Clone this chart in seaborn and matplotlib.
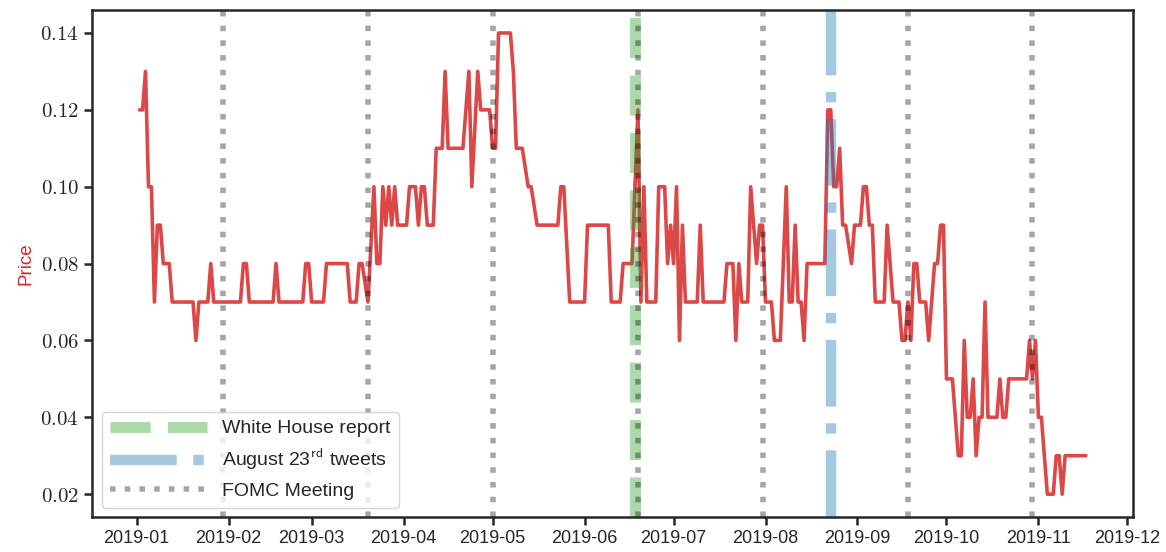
import matplotlib
matplotlib.use("Agg")
import pandas as pd
import numpy as np
import matplotlib.pyplot as plt
import matplotlib.dates as mdates
from matplotlib.ticker import FuncFormatter
import seaborn as sns

# price series (days after 2019-01-01, price)
start_date = "2019-01-01"
day_offsets = [1, 2, 3, 4, 5, 6, 7, 8, 9, 11, 12, 19, 20, 21, 24, 25, 26, 35, 36, 37, 38,
               46, 47, 48, 56, 57, 58, 59, 63, 64, 71, 72, 74, 75, 76, 78, 80, 81, 82, 83,
               84, 85, 86, 87, 88, 91, 92, 94, 95, 96, 97, 98, 100, 101, 103, 104, 105, 110,
               112, 113, 115, 116, 119, 120, 121, 122, 126, 127, 128, 130, 132, 133, 135, 142,
               143, 144, 146, 151, 152, 159, 160, 163, 164, 167, 169, 170, 171, 172, 175, 176,
               178, 179, 180, 181, 182, 183, 184, 185, 189, 190, 191, 198, 199, 201, 202, 203,
               204, 206, 207, 209, 210, 211, 212, 214, 215, 217, 219, 220, 221, 222, 223, 224,
               225, 226, 232, 233, 234, 235, 236, 237, 238, 239, 241, 242, 244, 245, 246, 247,
               248, 249, 252, 253, 255, 257, 258, 259, 260, 261, 262, 263, 264, 266, 267, 269,
               270, 271, 272, 273, 275, 277, 278, 279, 280, 281, 282, 283, 284, 285, 286, 287,
               290, 291, 292, 293, 294, 300, 301, 302, 303, 304, 305, 307, 309, 310, 311, 312,
               313, 320]
prices = [0.12, 0.12, 0.13, 0.10, 0.10, 0.07, 0.09, 0.09, 0.08, 0.08, 0.07, 0.07, 0.06, 0.07, 0.07, 0.08, 0.07, 0.07, 0.08, 0.08, 0.07,
          0.07, 0.08, 0.07, 0.07, 0.08, 0.08, 0.07, 0.07, 0.08, 0.08, 0.07, 0.07, 0.08, 0.08, 0.07, 0.10, 0.08, 0.08, 0.10,
          0.09, 0.10, 0.09, 0.10, 0.09, 0.09, 0.10, 0.10, 0.09, 0.10, 0.10, 0.09, 0.09, 0.11, 0.11, 0.13, 0.11, 0.11,
          0.13, 0.10, 0.13, 0.12, 0.12, 0.11, 0.11, 0.14, 0.14, 0.13, 0.11, 0.11, 0.10, 0.10, 0.09, 0.09,
          0.10, 0.10, 0.07, 0.07, 0.09, 0.09, 0.07, 0.07, 0.08, 0.08, 0.12, 0.07, 0.10, 0.07, 0.07, 0.10,
          0.10, 0.08, 0.09, 0.08, 0.10, 0.06, 0.09, 0.07, 0.07, 0.09, 0.07, 0.07, 0.08, 0.08, 0.06, 0.08,
          0.07, 0.07, 0.10, 0.08, 0.09, 0.09, 0.07, 0.07, 0.06, 0.06, 0.10, 0.07, 0.07, 0.09, 0.07, 0.07,
          0.06, 0.08, 0.08, 0.12, 0.12, 0.10, 0.10, 0.11, 0.09, 0.09, 0.08, 0.09, 0.09, 0.10, 0.10, 0.09,
          0.09, 0.07, 0.07, 0.09, 0.07, 0.07, 0.06, 0.06, 0.07, 0.06, 0.08, 0.08, 0.07, 0.07, 0.06, 0.08,
          0.08, 0.09, 0.09, 0.05, 0.05, 0.03, 0.03, 0.06, 0.04, 0.04, 0.05, 0.03, 0.04, 0.04, 0.07, 0.04,
          0.04, 0.05, 0.04, 0.04, 0.05, 0.05, 0.06, 0.05, 0.06, 0.04, 0.04, 0.02, 0.02, 0.03, 0.03, 0.02,
          0.03, 0.03]

# events
white_house_date = "2019-06-18"
tweets_date = "2019-08-23"
fomc_dates = ["2019-01-30", "2019-03-20", "2019-05-01", "2019-06-19",
              "2019-07-31", "2019-09-18", "2019-10-30"]

yticks = [0.02, 0.04, 0.06, 0.08, 0.10, 0.12, 0.14]

df = pd.DataFrame({
    "Date": pd.Timestamp(start_date) + pd.to_timedelta(day_offsets, unit="D"),
    "Price": prices,
})

sns.set_style("ticks")
plt.rcParams["font.family"] = ["Liberation Sans", "DejaVu Sans"]
plt.rcParams["mathtext.fontset"] = "cm"
plt.rcParams["axes.edgecolor"] = "#262626"
plt.rcParams["axes.linewidth"] = 1.8
plt.rcParams["xtick.major.width"] = 1.8
plt.rcParams["ytick.major.width"] = 1.8
plt.rcParams["xtick.major.size"] = 6
plt.rcParams["ytick.major.size"] = 6

fig, ax = plt.subplots(figsize=(11.66, 5.52), dpi=100)
fig.subplots_adjust(left=0.079, right=0.972, top=0.982, bottom=0.063)

sns.lineplot(data=df, x="Date", y="Price", ax=ax, color="#d62728", alpha=0.85, linewidth=2.6)

# event markers
ax.axvline(pd.Timestamp(white_house_date), color="tab:green", alpha=0.4, linewidth=7.8,
           linestyle="--", label="White House report")
ax.axvline(pd.Timestamp(tweets_date), color="tab:blue", alpha=0.4, linewidth=7.5,
           linestyle="-.", label="August 23$^{\\mathsf{rd}}$ tweets")
for i, d in enumerate(fomc_dates):
    ax.axvline(pd.Timestamp(d), color="k", alpha=0.35, linewidth=4, linestyle=":",
               label="FOMC Meeting" if i == 0 else None)

ax.set_xlim(pd.Timestamp("2018-12-17"), pd.Timestamp("2019-12-03"))
ax.set_ylim(0.014, 0.146)
ax.xaxis.set_major_locator(mdates.MonthLocator())
ax.xaxis.set_major_formatter(mdates.DateFormatter("%Y-%m"))
ax.set_yticks(yticks)
ax.yaxis.set_major_formatter(FuncFormatter(lambda v, p: f"${v:.2f}$"))
ax.tick_params(axis="x", labelsize=13, colors="#262626")
ax.tick_params(axis="y", labelsize=15, colors="#262626")

ax.set_xlabel("")
ax.set_ylabel("Price", color="#d62728", fontsize=13.5)

ax.legend(loc="lower left", fontsize=14, handlelength=5)

fig.savefig("out.png", dpi=100)
